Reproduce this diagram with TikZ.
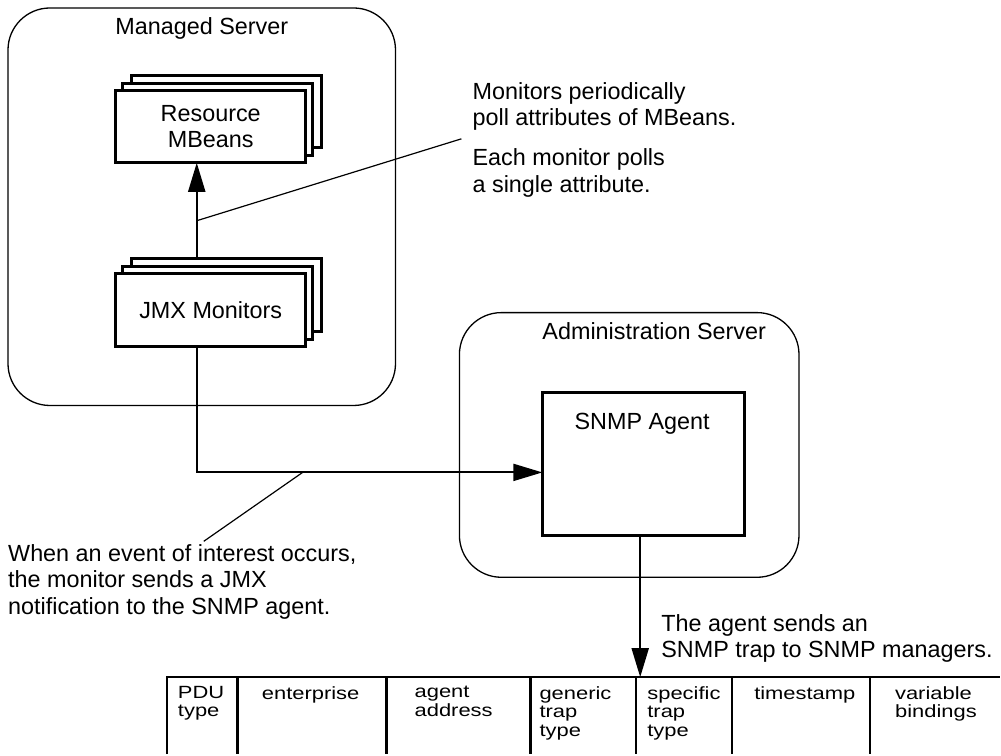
\documentclass[tikz,border=0pt]{standalone}
\usepackage{fontspec}
\setmainfont{Liberation Sans}
\newfontfamily\fieldfont[FakeStretch=1.24]{Liberation Sans}
\usetikzlibrary{arrows.meta,shadows,positioning}

\tikzset{
    server/.style={draw, line width=1.3pt, rounded corners=42pt},
    box/.style={draw, line width=3pt, fill=white, outer sep=0pt, inner sep=0pt,
        minimum width=190pt, minimum height=72pt, align=center},
    stack/.style={
        copy shadow={shadow xshift=16pt, shadow yshift=15pt, draw=black, line width=3pt},
        copy shadow={shadow xshift=7pt, shadow yshift=7pt, draw=black, line width=3pt}},
    flow/.style={line width=2pt, -{Triangle[length=29pt,width=17pt]}},
    leader/.style={line width=1.2pt},
    note/.style={anchor=north west, align=left, inner sep=0pt},
    field/.style={anchor=north west, align=left, inner sep=0pt,
        font=\fieldfont\fontsize{17.7}{18.5}\selectfont},
    tableline/.style={line width=2.5pt}
}

\begin{document}
\begin{tikzpicture}[x=1pt, y=-1pt, font=\fontsize{23.4}{26.5}\selectfont]
    \fill[white] (0,0) rectangle (1001,755);

    % Servers
    \draw[server] (8,8) rectangle (396,406);
    \node (managed) [anchor=base] at (202,35) {Managed Server};
    \draw[server] (460,313) rectangle (800,578);
    \node (admin) [anchor=base] at (655,340) {Administration Server};

    % MBeans and monitors
    \node (rb) [box, stack] at (211,127) {Resource\\MBeans};
    \node (jmx) [box, stack, minimum height=73pt] at (211,310.5) {JMX Monitors};
    \draw[flow] ([xshift=-14pt,yshift=15pt]jmx.north) -- ([xshift=-14pt]rb.south);

    % Agent
    \node (snmp) [box, minimum width=202pt, minimum height=143pt] at (644,464.5) {};
    \node (snmplabel) [anchor=base] at (643,430) {SNMP Agent};
    \draw[flow] ([xshift=-14pt]jmx.south) |- ([yshift=-8.5pt]snmp.west);

    % Trap PDU
    \coordinate (tabletop) at (167,678);
    \coordinate (agentout) at ([xshift=-3pt]snmp.south);
    \draw[flow] (agentout) -- (agentout |- tabletop);
    \draw[tableline] (167,755) |- (1001,678);
    \foreach \x in {238,387,531,637,733,871}
        \draw[tableline] (\x,678) -- (\x,755);
    \node (pdu) [field] at (178,687) {PDU\\type};
    \node (enterprise) [field] at (262,687) {enterprise};
    \node (address) [field] at (415,687) {agent\\address};
    \node (generic) [field] at (540,687) {generic\\trap\\type};
    \node (specific) [field] at (648,687) {specific\\trap\\type};
    \node (timestamp) [field] at (755,687) {timestamp};
    \node (bindings) [field] at (896,687) {variable\\bindings};

    % Notes
    \node (poll) [note] at (473,82) {Monitors periodically\\poll attributes of MBeans.};
    \node (single) [note] at (473,149) {Each monitor polls\\a single attribute.};
    \node (event) [note] at (8,545) {When an event of interest occurs,\\the monitor sends a JMX\\notification to the SNMP agent.};
    \node (trap) [note] at (662,615) {The agent sends an\\SNMP trap to SNMP managers.};

    \coordinate (pollmark) at (197,221);
    \coordinate (polltip) at (462,139);
    \draw[leader] (pollmark) -- (polltip);
    \coordinate (eventmark) at (303,473);
    \coordinate (eventtip) at (204,542);
    \draw[leader] (eventmark) -- (eventtip);
\end{tikzpicture}
\end{document}
